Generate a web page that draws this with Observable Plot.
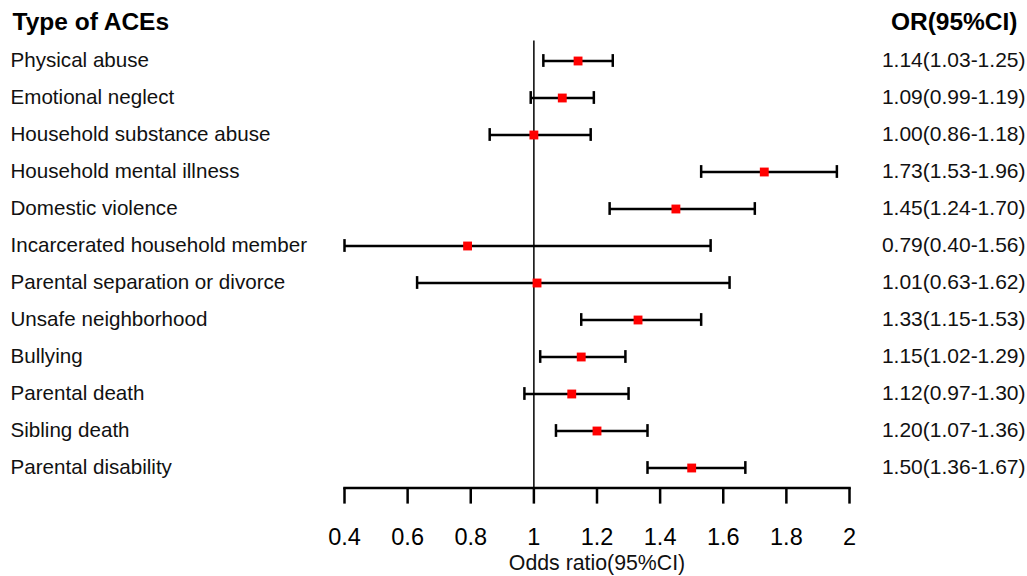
<!DOCTYPE html>
<html><head><meta charset="utf-8">
<script src="https://cdn.jsdelivr.net/npm/d3@7"></script>
<script src="https://cdn.jsdelivr.net/npm/@observablehq/plot@0.6"></script>
<style>body{margin:0;background:#fff;} svg{display:block}</style>
</head><body><div id="chart"></div>
<script>
const categories = [
  "Physical abuse",
  "Emotional neglect",
  "Household substance abuse",
  "Household mental illness",
  "Domestic violence",
  "Incarcerated household member",
  "Parental separation or divorce",
  "Unsafe neighborhood",
  "Bullying",
  "Parental death",
  "Sibling death",
  "Parental disability"
];
const orValues = [1.14, 1.09, 1.00, 1.73, 1.45, 0.79, 1.01, 1.33, 1.15, 1.12, 1.20, 1.50];
const lowerCI  = [1.03, 0.99, 0.86, 1.53, 1.24, 0.40, 0.63, 1.15, 1.02, 0.97, 1.07, 1.36];
const upperCI  = [1.25, 1.19, 1.18, 1.96, 1.70, 1.56, 1.62, 1.53, 1.29, 1.30, 1.36, 1.67];
const xTicks = [0.4, 0.6, 0.8, 1, 1.2, 1.4, 1.6, 1.8, 2];
const leftHeader = "Type of ACEs";
const rightHeader = "OR(95%CI)";
const xTitle = "Odds ratio(95%CI)";

const rows = categories.map((c, i) => ({
  type: c, or: orValues[i], lo: lowerCI[i], hi: upperCI[i],
  label: `${orValues[i].toFixed(2)}(${lowerCI[i].toFixed(2)}-${upperCI[i].toFixed(2)})`
}));

const font = "'Liberation Sans', Arial, Helvetica, sans-serif";
const capInset = 12.1;
const plot = Plot.plot({
  width: 1027, height: 576,
  marginLeft: 344, marginRight: 178, marginTop: 40.4, marginBottom: 88.4,
  style: {fontFamily: font, background: "#fff", color: "#000", overflow: "visible"},
  x: {domain: [0.4, 2]},
  y: {type: "band", domain: categories, padding: 0, axis: null},
  marks: [
    Plot.ruleX([1], {stroke: "#000", strokeWidth: 1.5}),
    Plot.frame({anchor: "bottom", stroke: "#000", strokeWidth: 2.5}),
    Plot.axisX(xTicks, {anchor: "bottom", tickSize: 16, tickPadding: 24, fontSize: 23.5, strokeWidth: 2.5, stroke: "#000", fill: "#000", tickFormat: d => String(d), label: null}),
    Plot.ruleY(rows, {y: "type", x1: "lo", x2: "hi", stroke: "#000", strokeWidth: 2.5}),
    Plot.tickX(rows, {x: "lo", y: "type", insetTop: capInset, insetBottom: capInset, stroke: "#000", strokeWidth: 2.5}),
    Plot.tickX(rows, {x: "hi", y: "type", insetTop: capInset, insetBottom: capInset, stroke: "#000", strokeWidth: 2.5}),
    Plot.dot(rows, {x: "or", y: "type", symbol: "square", r: 5, fill: "#f00", stroke: "none"}),
    Plot.text(rows, {y: "type", text: "type", frameAnchor: "left", dx: -334, dy: -1, textAnchor: "start", fontSize: 20.6, fill: "#111"}),
    Plot.text(rows, {y: "type", text: "label", frameAnchor: "right", dx: 176, dy: -1, textAnchor: "end", fontSize: 21, fill: "#111"}),
    Plot.text([leftHeader], {text: d => d, frameAnchor: "top-left", lineAnchor: "middle", dx: -332, dy: -18.5, textAnchor: "start", fontSize: 24.5, fontWeight: "bold", fill: "#000"}),
    Plot.text([rightHeader], {text: d => d, frameAnchor: "top-right", lineAnchor: "middle", dx: 168, dy: -18.5, textAnchor: "end", fontSize: 24.5, fontWeight: "bold", fill: "#000"}),
    Plot.text([xTitle], {text: d => d, frameAnchor: "bottom", lineAnchor: "middle", dy: 75.5, fontSize: 21.3, fill: "#111"})
  ]
});
document.getElementById("chart").append(plot);
</script>
</body></html>
